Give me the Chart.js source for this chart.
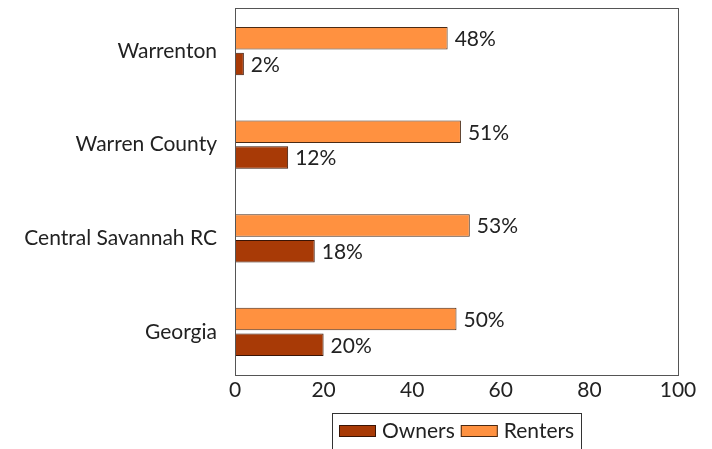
<!DOCTYPE html>
<html>
<head>
<meta charset="utf-8">
<script src="https://cdn.jsdelivr.net/npm/chart.js@4"></script>
<style>
  html, body { margin: 0; padding: 0; background: #fff; }
  #wrap { width: 712px; height: 449px; }
</style>
</head>
<body>
<div id="wrap"><canvas id="myChart" width="712" height="449"></canvas></div>
<script>
// categories, top to bottom
const places = ['Warrenton', 'Warren County', 'Central Savannah RC', 'Georgia'];
// share (%) for each group
const renters = [48, 51, 53, 50];
const owners = [2, 12, 18, 20];
const xTicks = [0, 20, 40, 60, 80, 100];

const FONT = 'Lato, "Open Sans", sans-serif';
const FS = 21;

// the plot leaves a bit less than half a category above and below
const yOffset = {
  id: 'yOffset',
  afterLayout(chart) {
    const y = chart.scales.y;
    const n = chart.data.labels.length;
    y._startValue = -0.46;
    y._valueRange = (n - 1) + 0.92;
  },
};

// frame round the plot area, value labels and the legend box
const framePlugin = {
  id: 'frame',
  afterDraw(chart) {
    const ctx = chart.ctx;
    const a = chart.chartArea;
    ctx.save();
    ctx.strokeStyle = '#555';
    ctx.lineWidth = 1;
    ctx.strokeRect(Math.round(a.left) + 0.5, Math.round(a.top) + 0.5,
      Math.round(a.right - a.left), Math.round(a.bottom - a.top));

    // value labels at the bar ends
    ctx.fillStyle = '#222';
    ctx.font = FS + 'px ' + FONT;
    ctx.textBaseline = 'middle';
    ctx.textAlign = 'left';
    chart.data.datasets.forEach((ds, i) => {
      chart.getDatasetMeta(i).data.forEach((bar, j) => {
        ctx.fillText(ds.data[j] + '%', bar.x + 7, bar.y + 1);
      });
    });

    // legend: Owners first, then Renters, centred under the plot
    const items = chart.data.datasets.slice().reverse();
    const sw = 37, sh = 12, gapSw = 6, gapItem = 6, pad = 7;
    let w = pad * 2;
    items.forEach((ds, k) => {
      w += sw + gapSw + ctx.measureText(ds.label).width + (k < items.length - 1 ? gapItem : 0);
    });
    let x = Math.round((a.left + a.right) / 2 - w / 2);
    const top = 413, h = 40, cy = 431;
    ctx.strokeStyle = '#333';
    ctx.strokeRect(x + 0.5, top + 0.5, Math.round(w), h);
    x += pad;
    items.forEach((ds) => {
      ctx.fillStyle = ds.backgroundColor;
      ctx.fillRect(x, cy - sh / 2, sw, sh);
      ctx.strokeStyle = ds.borderColor;
      ctx.strokeRect(x + 0.5, cy - sh / 2 + 0.5, sw - 1, sh - 1);
      x += sw + gapSw;
      ctx.fillStyle = '#222';
      ctx.fillText(ds.label, x, cy);
      x += ctx.measureText(ds.label).width + gapItem;
    });
    ctx.restore();
  },
};

new Chart(document.getElementById('myChart'), {
  type: 'bar',
  data: {
    labels: places,
    datasets: [{
      label: 'Renters',
      data: renters,
      backgroundColor: '#ff9140',
      borderColor: '#4a2a14',
      borderWidth: 1,
      borderSkipped: false,
      categoryPercentage: 0.55,
      barPercentage: 0.87,
    }, {
      label: 'Owners',
      data: owners,
      backgroundColor: '#a83a06',
      borderColor: '#3a1405',
      borderWidth: 1,
      borderSkipped: false,
      categoryPercentage: 0.55,
      barPercentage: 0.87,
    }],
  },
  options: {
    indexAxis: 'y',
    responsive: false,
    animation: false,
    layout: {padding: {left: 0, right: 34, top: 8, bottom: 44}},
    plugins: {
      title: {display: false},
      tooltip: {enabled: false},
      legend: {display: false},
    },
    scales: {
      x: {
        min: 0,
        max: 100,
        afterBuildTicks(scale) {
          scale.ticks = xTicks.map((v) => ({value: v}));
        },
        grid: {display: false, drawTicks: false},
        border: {display: false},
        ticks: {
          color: '#222',
          font: {family: FONT, size: FS},
          padding: 3,
          maxRotation: 0,
        },
        afterFit(scale) {
          scale.height = 30;
          scale.paddingLeft = 0;
          scale.paddingRight = 0;
        },
      },
      y: {
        grid: {display: false, drawTicks: false},
        border: {display: false},
        ticks: {
          color: '#222',
          font: {family: FONT, size: FS},
          padding: 18,
        },
        afterFit(scale) {
          scale.width = 235;
          scale.paddingTop = 0;
          scale.paddingBottom = 0;
        },
      },
    },
  },
  plugins: [yOffset, framePlugin],
});
</script>
</body>
</html>
